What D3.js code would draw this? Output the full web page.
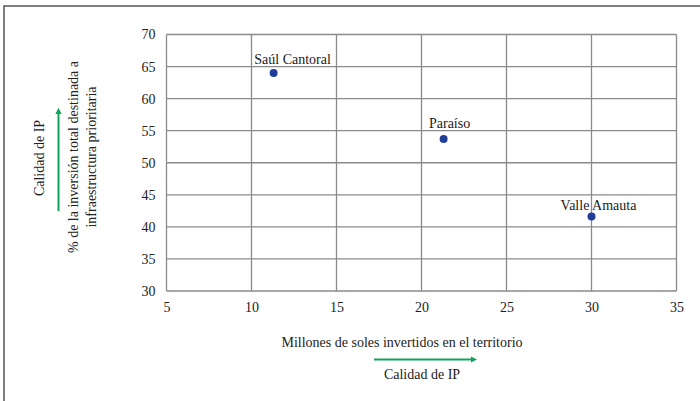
<!DOCTYPE html>
<html>
<head>
<meta charset="utf-8">
<script src="https://d3js.org/d3.v7.min.js"></script>
<style>
  body { margin: 0; background: #fff; }
  text { font-family: "Liberation Serif", "Times New Roman", serif; fill: #222; }
</style>
</head>
<body>
<svg></svg>
<script>
var width = 700,
  height = 401;

// data
var names = ["Saúl Cantoral", "Paraíso", "Valle Amauta"];
var millones = [11.3, 21.3, 30.0];
var porcentaje = [64.0, 53.7, 41.6];
var xTicks = [5, 10, 15, 20, 25, 30, 35];
var yTicks = [30, 35, 40, 45, 50, 55, 60, 65, 70];
var labelDx = [19, 6, 7];
var labelDy = [-9, -11, -7];

var svg = d3.select("svg")
  .attr("width", width)
  .attr("height", height);

var margin = { left: 166.5, right: 676.5, top: 34.5, bottom: 291 };

var x = d3.scaleLinear().domain([5, 35]).range([margin.left, margin.right]);
var y = d3.scaleLinear().domain([30, 70]).range([margin.bottom, margin.top]);

// outer frame (left and top only)
svg.append("path")
  .attr("d", "M4," + height + "V6H" + width)
  .attr("fill", "none")
  .attr("stroke", "#555")
  .attr("stroke-width", 1.5);

var grid = svg.append("g").attr("class", "grid");

grid.selectAll("line.v")
  .data(xTicks)
  .enter().append("line")
  .attr("class", "v")
  .attr("x1", d => x(d)).attr("x2", d => x(d))
  .attr("y1", y(30)).attr("y2", y(70))
  .attr("stroke", "#8a8a8a")
  .attr("stroke-width", 1.3);

grid.selectAll("line.h")
  .data(yTicks)
  .enter().append("line")
  .attr("class", "h")
  .attr("x1", x(5)).attr("x2", x(35))
  .attr("y1", d => y(d)).attr("y2", d => y(d))
  .attr("stroke", "#8a8a8a")
  .attr("stroke-width", 1.3);

// axes
var xAxis = svg.append("g")
  .attr("transform", "translate(0," + y(30) + ")")
  .call(d3.axisBottom(x).tickValues(xTicks).tickSize(0).tickPadding(11));

var yAxis = svg.append("g")
  .attr("transform", "translate(" + x(5) + ",0)")
  .call(d3.axisLeft(y).tickValues(yTicks).tickSize(0).tickPadding(11));

[xAxis, yAxis].forEach(function (a) {
  a.select(".domain").remove();
  a.selectAll("text")
    .style("font-family", "Liberation Serif")
    .style("font-size", "14px")
    .attr("fill", "#222");
});

// points
var pts = names.map(function (n, i) {
  return { name: n, x: millones[i], y: porcentaje[i], dx: labelDx[i], dy: labelDy[i] };
});

svg.selectAll("circle.pt")
  .data(pts)
  .enter().append("circle")
  .attr("class", "pt")
  .attr("cx", d => x(d.x))
  .attr("cy", d => y(d.y))
  .attr("r", 4)
  .attr("fill", "#1f3d99");

svg.selectAll("text.lbl")
  .data(pts)
  .enter().append("text")
  .attr("class", "lbl")
  .attr("x", d => x(d.x) + d.dx)
  .attr("y", d => y(d.y) + d.dy)
  .attr("text-anchor", "middle")
  .style("font-size", "14px")
  .text(d => d.name);

// arrow marker
var green = "#10a45a";
svg.append("defs").append("marker")
  .attr("id", "arrow")
  .attr("viewBox", "0 0 10 10")
  .attr("refX", 5).attr("refY", 5)
  .attr("markerWidth", 3.2).attr("markerHeight", 3.2)
  .attr("orient", "auto")
  .append("path")
  .attr("d", "M0,0L10,5L0,10z")
  .attr("fill", green);

// x axis title
svg.append("text")
  .attr("x", 402).attr("y", 347)
  .attr("text-anchor", "middle")
  .style("font-size", "14px")
  .text("Millones de soles invertidos en el territorio");

svg.append("line")
  .attr("x1", 374).attr("x2", 474)
  .attr("y1", 359.5).attr("y2", 359.5)
  .attr("stroke", green).attr("stroke-width", 2)
  .attr("marker-end", "url(#arrow)");

svg.append("text")
  .attr("x", 422).attr("y", 379)
  .attr("text-anchor", "middle")
  .style("font-size", "14px")
  .text("Calidad de IP");

// y axis titles
svg.append("text")
  .attr("transform", "translate(44,158) rotate(-90)")
  .attr("text-anchor", "middle")
  .style("font-size", "14px")
  .text("Calidad de IP");

svg.append("line")
  .attr("x1", 58.5).attr("x2", 58.5)
  .attr("y1", 211).attr("y2", 111)
  .attr("stroke", green).attr("stroke-width", 2)
  .attr("marker-end", "url(#arrow)");

var yTitle = svg.append("text")
  .attr("transform", "translate(78,157) rotate(-90)")
  .attr("text-anchor", "middle")
  .style("font-size", "14px");
yTitle.append("tspan").attr("x", 0).attr("dy", 0)
  .text("% de la inversión total destinada a");
yTitle.append("tspan").attr("x", 0).attr("dy", 18)
  .text("infraestructura prioritaria");
</script>
</body>
</html>
